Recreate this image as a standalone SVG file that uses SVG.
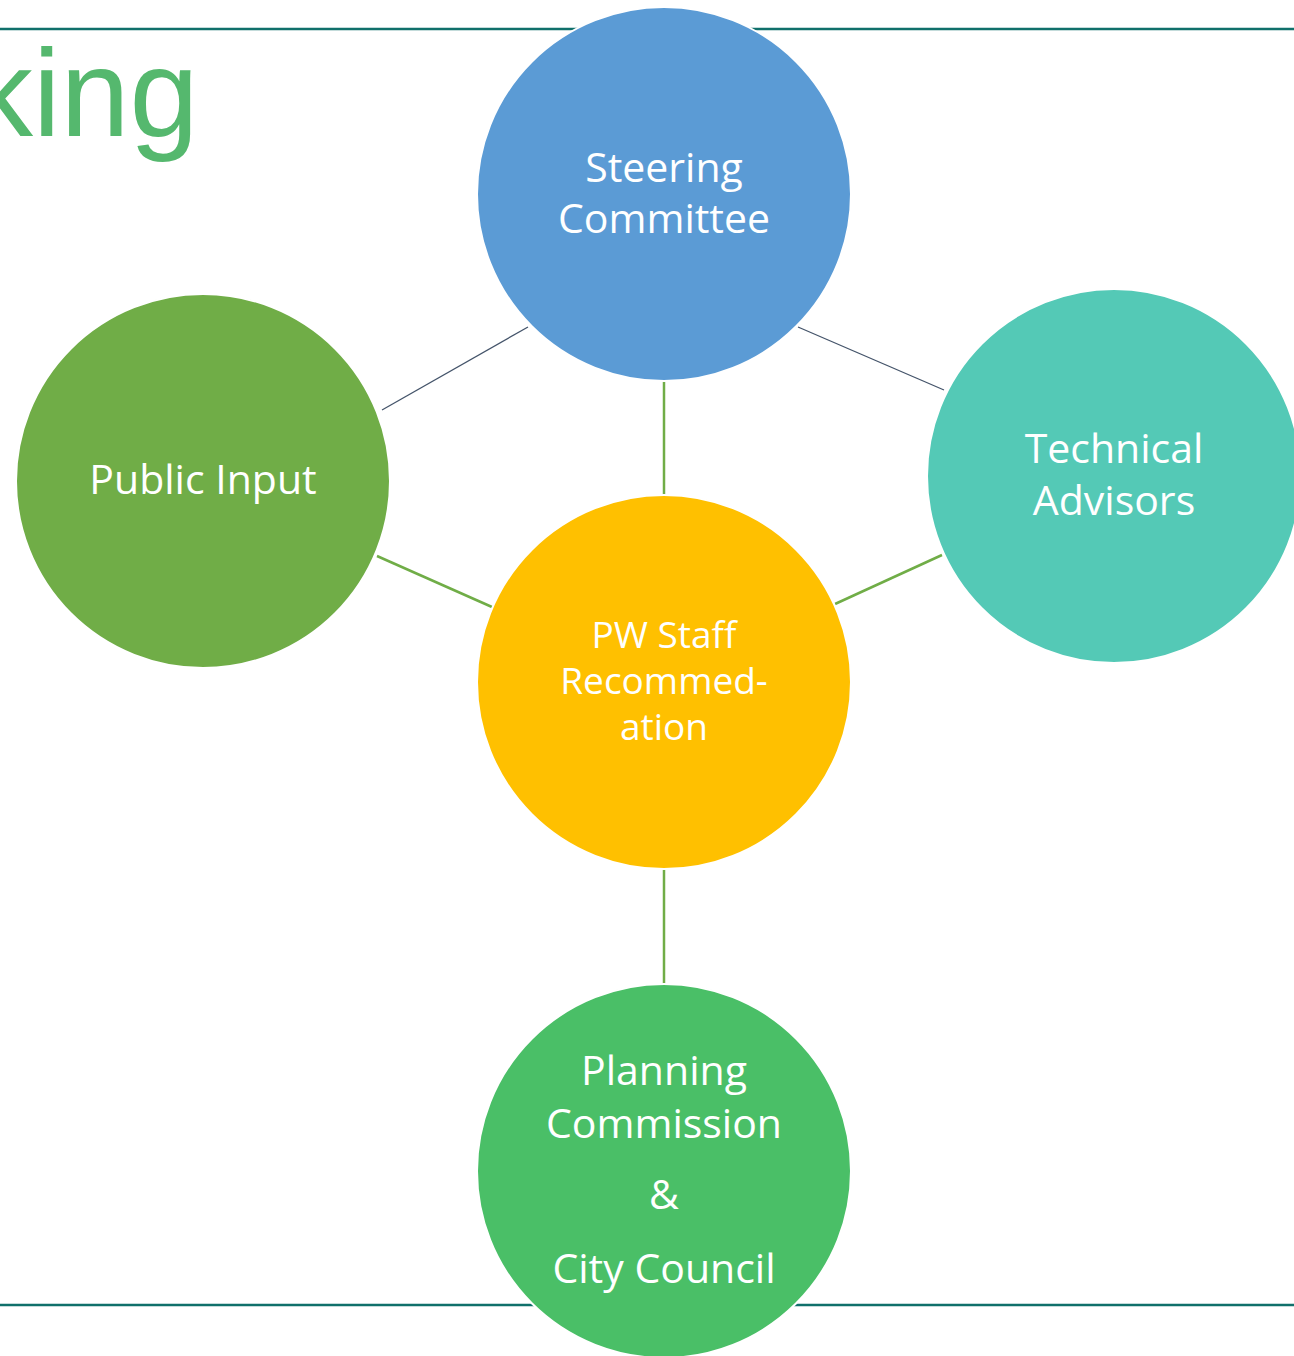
<svg xmlns="http://www.w3.org/2000/svg" width="1294" height="1356" viewBox="0 0 1294 1356">
  <style>
    .rule { stroke: #10706b; stroke-width: 2.5; }
    .node circle { stroke: #ffffff; stroke-width: 2; }
    .node text { font-family: "Open Sans", "Noto Sans", sans-serif; fill: #ffffff; text-anchor: middle; }
    .lbl { font-size: 41px; }
    .lbl-sm { font-size: 37px; }
    .link-thin { stroke: #44546a; stroke-width: 1.3; }
    .link-green { stroke: #70ad47; stroke-width: 2.5; }
  </style>
  <rect width="1294" height="1356" fill="#ffffff"/>

  <!-- slide rules and title fragment -->
  <line class="rule" x1="0" y1="29" x2="1294" y2="29"/>
  <line class="rule" x1="0" y1="1305" x2="1294" y2="1305"/>
  <text x="-29" y="136" font-family="'Liberation Sans', Arial, sans-serif" font-size="124" fill="#55b86e">king</text>

  <!-- connectors -->
  <g id="connectors">
    <line class="link-thin" x1="382" y1="410" x2="528" y2="327"/>
    <line class="link-thin" x1="798" y1="327" x2="944" y2="390"/>
    <line class="link-green" x1="664" y1="382" x2="664" y2="495"/>
    <line class="link-green" x1="377" y1="556" x2="492" y2="607"/>
    <line class="link-green" x1="835" y1="604" x2="942" y2="555"/>
    <line class="link-green" x1="664" y1="870" x2="664" y2="984"/>
  </g>

  <g id="steering" class="node">
    <circle cx="664" cy="194" r="187" fill="#5b9bd5"/>
    <text class="lbl" x="664" y="182">Steering</text>
    <text class="lbl" x="664" y="233">Committee</text>
  </g>

  <g id="public-input" class="node">
    <circle cx="203" cy="481" r="187" fill="#70ad47"/>
    <text class="lbl" x="203" y="494">Public Input</text>
  </g>

  <g id="technical" class="node">
    <circle cx="1114" cy="476" r="187" fill="#54c9b6"/>
    <text class="lbl" x="1114" y="463">Technical</text>
    <text class="lbl" x="1114" y="515">Advisors</text>
  </g>

  <g id="pw-staff" class="node">
    <circle cx="664" cy="682" r="187" fill="#ffc000"/>
    <text class="lbl-sm" x="664" y="648">PW Staff</text>
    <text class="lbl-sm" x="664" y="694">Recommed-</text>
    <text class="lbl-sm" x="664" y="740">ation</text>
  </g>

  <g id="planning" class="node">
    <circle cx="664" cy="1171" r="187" fill="#4abf67"/>
    <text class="lbl" x="664" y="1085">Planning</text>
    <text class="lbl" x="664" y="1138">Commission</text>
    <text class="lbl" x="664" y="1209">&amp;</text>
    <text class="lbl" x="664" y="1283">City Council</text>
  </g>
</svg>
